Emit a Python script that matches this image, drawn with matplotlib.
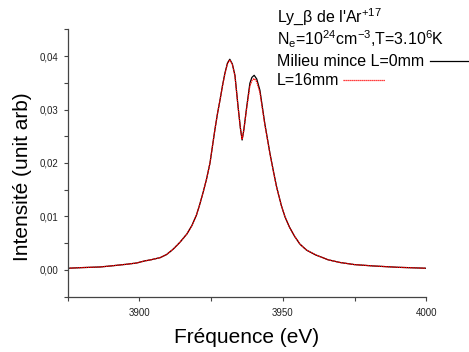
import matplotlib
matplotlib.use("Agg")
import matplotlib.pyplot as plt
from matplotlib.ticker import FuncFormatter, MultipleLocator
from matplotlib.lines import Line2D

plt.rcParams['font.family'] = ['Liberation Sans', 'DejaVu Sans']
plt.rcParams['mathtext.default'] = 'regular'

# Energy (eV) and intensity
energy = [3875.0, 3880.0, 3886.3, 3890.0, 3895.6, 3899.0, 3901.9, 3904.0, 3907.2,
          3909.5, 3911.8, 3914.0, 3916.5, 3918.3, 3919.9, 3921.0, 3922.2, 3923.4,
          3924.6, 3926.3, 3927.2, 3928.1, 3929.0, 3929.8, 3930.7, 3931.5, 3932.4,
          3933.3, 3934.4, 3935.2, 3935.8, 3936.4, 3937.4, 3938.5, 3939.2, 3940.0,
          3940.9, 3942.0, 3943.7, 3944.6, 3945.5, 3946.7, 3947.8, 3948.4, 3949.5,
          3950.7, 3952.3, 3954.2, 3956.0, 3958.3, 3961.5, 3965.8, 3969.9, 3975.0,
          3981.5, 3990.0, 4000.0]
thin = [0.00032, 0.00044, 0.00056, 0.00075, 0.00107, 0.0013, 0.0017, 0.0019, 0.0023,
        0.0029, 0.0039, 0.0051, 0.0067, 0.0083, 0.0103, 0.0122, 0.0145, 0.0170,
        0.0200, 0.0262, 0.0292, 0.0318, 0.0346, 0.0368, 0.0387, 0.0394, 0.0385,
        0.0364, 0.0305, 0.0265, 0.0243, 0.0262, 0.0305, 0.0349, 0.0360, 0.0364,
        0.0357, 0.0336, 0.0274, 0.0246, 0.0218, 0.0185, 0.0156, 0.0143, 0.0120,
        0.0100, 0.0080, 0.0062, 0.0048, 0.0037, 0.0028, 0.0019, 0.0014, 0.0010,
        0.00075, 0.0005, 0.00032]
thick16 = [0.00032, 0.00044, 0.00056, 0.00075, 0.00107, 0.0013, 0.0017, 0.0019, 0.0023,
           0.0029, 0.0039, 0.0051, 0.0067, 0.0083, 0.0103, 0.0122, 0.0145, 0.0170,
           0.0200, 0.0262, 0.0292, 0.0318, 0.0345, 0.0367, 0.0386, 0.0393, 0.0384,
           0.0363, 0.0304, 0.0265, 0.0244, 0.0262, 0.0303, 0.0344, 0.0354, 0.0358,
           0.0352, 0.0332, 0.0272, 0.0245, 0.0217, 0.0184, 0.0155, 0.0143, 0.0120,
           0.0100, 0.0080, 0.0062, 0.0048, 0.0037, 0.0028, 0.0019, 0.0014, 0.0010,
           0.00075, 0.0005, 0.00032]

xticks = [3900, 3950, 4000]
yticks = [0.00, 0.01, 0.02, 0.03, 0.04]

W, H = 469, 352
fig = plt.figure(figsize=(W / 100, H / 100), dpi=100)
ax = fig.add_axes([67.7 / W, 1 - 296.7 / H, (426.3 - 67.7) / W, (296.7 - 29.3) / H])

ax.plot(energy, thin, color='black', lw=0.9)
ax.plot(energy, thick16, color='red', lw=0.9, linestyle=(0, (1.2, 0.6)))

ax.set_xlim(3875, 4000)
ax.set_ylim(-0.005, 0.045)
ax.spines['top'].set_visible(False)
ax.spines['right'].set_visible(False)
for s in ['left', 'bottom']:
    ax.spines[s].set_color('#444444')
    ax.spines[s].set_linewidth(0.9)

ax.set_xticks(xticks)
ax.set_yticks(yticks)
ax.xaxis.set_minor_locator(MultipleLocator(25))
ax.yaxis.set_minor_locator(MultipleLocator(0.005))
ax.yaxis.set_major_formatter(FuncFormatter(lambda v, p: f"{v:.2f}".replace('.', ',')))
ax.tick_params(axis='both', which='both', direction='out', length=3.2, width=0.8,
               color='#444444', labelsize=7, labelcolor='#222222')
ax.tick_params(axis='y', pad=3.6)
ax.tick_params(axis='x', pad=5)

fig.text(247 / W, 1 - 343 / H, 'Fréquence (eV)', fontsize=15, ha='center', va='baseline')
fig.text(22 / W, 1 - 176.7 / H, 'Intensité (unit arb)', fontsize=15, ha='center',
         va='center', rotation=90)

fx = 276.5 / W
fig.text(fx, 1 - 21.7 / H, "Ly_β de l'Ar$^{+17}$", fontsize=11.5, va='baseline')
fig.text(fx, 1 - 45 / H, "N$_e$=10$^{24}$cm$^{-3}$,T=3.10$^6$K", fontsize=11.5, va='baseline')
fig.text(fx, 1 - 66 / H, "Milieu mince L=0mm", fontsize=11.5, va='baseline')
fig.text(fx, 1 - 85 / H, "L=16mm", fontsize=11.5, va='baseline')
fig.add_artist(Line2D([430 / W, 468 / W], [1 - 61 / H, 1 - 61 / H], color='black', lw=0.9,
                      transform=fig.transFigure))
fig.add_artist(Line2D([343 / W, 385 / W], [1 - 80 / H, 1 - 80 / H], color='red', lw=0.9,
                      linestyle=(0, (1, 0.6)), transform=fig.transFigure))

fig.savefig('out.png', dpi=100)
